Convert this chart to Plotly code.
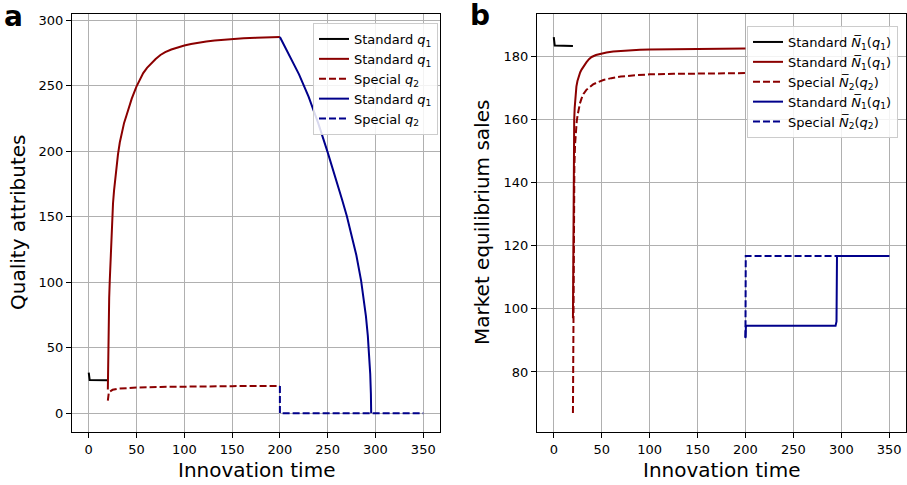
import plotly.graph_objects as go

# ---------------- Data: panel a (quality attributes) ----------------
a_black_t = [0, 0.3, 1, 20]
a_black_q = [31, 26, 25.2, 25]

a_red_t = [20, 20.3, 20.6, 20.9, 21.4, 22, 22.5, 23, 24, 25.4, 26.5, 28, 29.3, 30.6, 32.5, 35,
           37, 39.4, 42, 45, 49.8, 53, 57, 61, 65.5, 70, 75, 80, 86.4, 93, 100, 107, 115,
           123, 131.7, 140, 150, 162, 175, 187, 200]
a_red_q = [18, 40, 58, 72, 88, 101, 112, 122, 143, 160, 170, 181, 190, 197.5, 206.5, 215.5,
           221.5, 227, 233.5, 240, 249, 254, 259.5, 263.5, 267, 270.3, 273.3, 275.5, 277.5,
           279.2, 280.5, 281.7, 282.8, 283.6, 284.3, 284.9, 285.5, 286, 286.4, 286.7, 287]

a_red_dash_t = [20, 20.5, 21, 22, 25, 30, 40, 50, 75, 100, 150, 200]
a_red_dash_q = [9.5, 14, 15.5, 16.5, 17.8, 18.6, 19.3, 19.6, 20.0, 20.3, 20.6, 20.8]

a_blue_t = [200, 210, 220, 230, 240, 250, 255, 260, 265, 270, 275, 280, 285, 288, 290, 292,
            293.5, 294.5, 295.2, 295.5]
a_blue_q = [287, 273, 258.5, 241.5, 221.5, 199, 187.5, 175.5, 163, 150.5, 136.5, 120.5, 101,
            86, 74, 59, 44, 30, 15, 0]

a_blue_dash_t = [200, 200, 350]
a_blue_dash_q = [20.8, 0, 0]

# ---------------- Data: panel b (market equilibrium sales) ----------------
b_black_t = [0, 0.3, 1, 20]
b_black_n = [186, 183.8, 183.3, 183.2]

b_red_t = [20, 20.3, 20.7, 21.3, 21.8, 22.3, 23, 23.6, 24.7, 26, 27.5, 29, 31.5, 34, 36.7,
           39.5, 44, 50, 55, 62, 70, 80, 90, 100, 125, 150, 175, 200]
b_red_n = [97, 120, 145, 159.7, 163.5, 166, 168.4, 170.3, 172.1, 173.7, 174.8, 175.7, 177,
           178, 179, 179.7, 180.3, 180.8, 181.1, 181.4, 181.6, 181.8, 182, 182.1, 182.2,
           182.3, 182.35, 182.4]

b_red_dash_t = [20, 20.3, 20.8, 21.5, 22.2, 23, 24, 25, 26, 27.3, 29, 31, 34, 37.7, 41, 45,
                51.7, 60, 70, 85, 100, 125, 150, 175, 200]
b_red_dash_n = [67, 95, 125, 145, 152, 156.6, 159.5, 161.5, 163.4, 165, 166.6, 168, 169.3,
                170.3, 171, 171.6, 172.4, 173, 173.5, 173.9, 174.2, 174.35, 174.5, 174.55,
                174.6]

b_blue_t = [200, 200.5, 294, 295, 295.5, 350]
b_blue_n = [90.7, 94.6, 94.6, 96, 116.7, 116.7]

b_blue_dash_t = [200, 200.3, 350]
b_blue_dash_n = [91, 116.7, 116.7]

x_ticks = [0, 50, 100, 150, 200, 250, 300, 350]
a_y_ticks = [0, 50, 100, 150, 200, 250, 300]
b_y_ticks = [80, 100, 120, 140, 160, 180]

BLACK = "#000000"
RED = "#8b0000"
BLUE = "#00008b"
DASH = "7px,3px"
LW = 2

q1 = "<i>q</i><sub>1</sub>"
q2 = "<i>q</i><sub>2</sub>"
N1 = "<i>N\u0305</i><sub>1</sub>(<i>q</i><sub>1</sub>)"
N2 = "<i>N\u0305</i><sub>2</sub>(<i>q</i><sub>2</sub>)"

fig = go.Figure()

def add(x, y, name, color, dash, xa, ya, legend):
    fig.add_trace(go.Scatter(
        x=x, y=y, mode="lines", name=name,
        line=dict(color=color, width=LW, dash=dash),
        xaxis=xa, yaxis=ya, legend=legend))

add(a_black_t, a_black_q, "Standard " + q1, BLACK, "solid", "x", "y", "legend")
add(a_red_t, a_red_q, "Standard " + q1, RED, "solid", "x", "y", "legend")
add(a_red_dash_t, a_red_dash_q, "Special " + q2, RED, DASH, "x", "y", "legend")
add(a_blue_t, a_blue_q, "Standard " + q1, BLUE, "solid", "x", "y", "legend")
add(a_blue_dash_t, a_blue_dash_q, "Special " + q2, BLUE, DASH, "x", "y", "legend")

add(b_black_t, b_black_n, "Standard " + N1, BLACK, "solid", "x2", "y2", "legend2")
add(b_red_t, b_red_n, "Standard " + N1, RED, "solid", "x2", "y2", "legend2")
add(b_red_dash_t, b_red_dash_n, "Special " + N2, RED, DASH, "x2", "y2", "legend2")
add(b_blue_t, b_blue_n, "Standard " + N1, BLUE, "solid", "x2", "y2", "legend2")
add(b_blue_dash_t, b_blue_dash_n, "Special " + N2, BLUE, DASH, "x2", "y2", "legend2")

W, H = 907, 485
FONT = "DejaVu Sans"
TICKF = dict(family=FONT, size=13, color="black")

def ax_common(**kw):
    d = dict(showline=True, mirror=True, linecolor="black", linewidth=1,
             ticks="outside", ticklen=5, tickwidth=1, tickcolor="black",
             showgrid=True, gridcolor="#b0b0b0", gridwidth=1, zeroline=False,
             tickfont=TICKF)
    d.update(kw)
    return d

y0 = 1 - 432 / H
y1 = 1 - 14 / H

fig.update_layout(
    width=W, height=H,
    margin=dict(l=0, r=0, t=0, b=0),
    paper_bgcolor="white", plot_bgcolor="white",
    font=dict(family=FONT, color="black"),
    xaxis=ax_common(domain=[72 / W, 440 / W], range=[-17.5, 367.5],
                    tickvals=x_ticks, anchor="y"),
    yaxis=ax_common(domain=[y0, y1], range=[-14.4, 304.6],
                    tickvals=a_y_ticks, anchor="x"),
    xaxis2=ax_common(domain=[537 / W, 906 / W], range=[-17.5, 367.5],
                     tickvals=x_ticks, anchor="y2"),
    yaxis2=ax_common(domain=[y0, y1], range=[61.0, 193.3],
                     tickvals=b_y_ticks, anchor="x2"),
    legend=dict(x=438 / W, y=1 - 23 / H, xanchor="right", yanchor="top",
                bgcolor="rgba(255,255,255,0.85)", bordercolor="#cccccc", borderwidth=1,
                font=dict(family=FONT, size=13, color="black"),
                tracegroupgap=0, itemwidth=30),
    legend2=dict(x=898 / W, y=1 - 26 / H, xanchor="right", yanchor="top",
                 bgcolor="rgba(255,255,255,0.85)", bordercolor="#cccccc", borderwidth=1,
                 font=dict(family=FONT, size=13, color="black"),
                 tracegroupgap=0, itemwidth=30),
    showlegend=True,
)

annos = [
    dict(text="<b>a</b>", x=13 / W, y=1 - 17 / H, font=dict(size=28)),
    dict(text="<b>b</b>", x=480 / W, y=1 - 16 / H, font=dict(size=28)),
    dict(text="Innovation time", x=256 / W, y=1 - 470 / H, font=dict(size=20)),
    dict(text="Innovation time", x=721 / W, y=1 - 470 / H, font=dict(size=20)),
    dict(text="Quality attributes", x=18 / W, y=1 - 223 / H, font=dict(size=20), textangle=-90),
    dict(text="Market equilibrium sales", x=482 / W, y=1 - 223 / H, font=dict(size=20), textangle=-90),
]
for a in annos:
    a.update(xref="paper", yref="paper", showarrow=False, xanchor="center", yanchor="middle")
    a["font"].update(family=FONT, color="black")
    fig.add_annotation(**a)

fig.write_html("out.html")
